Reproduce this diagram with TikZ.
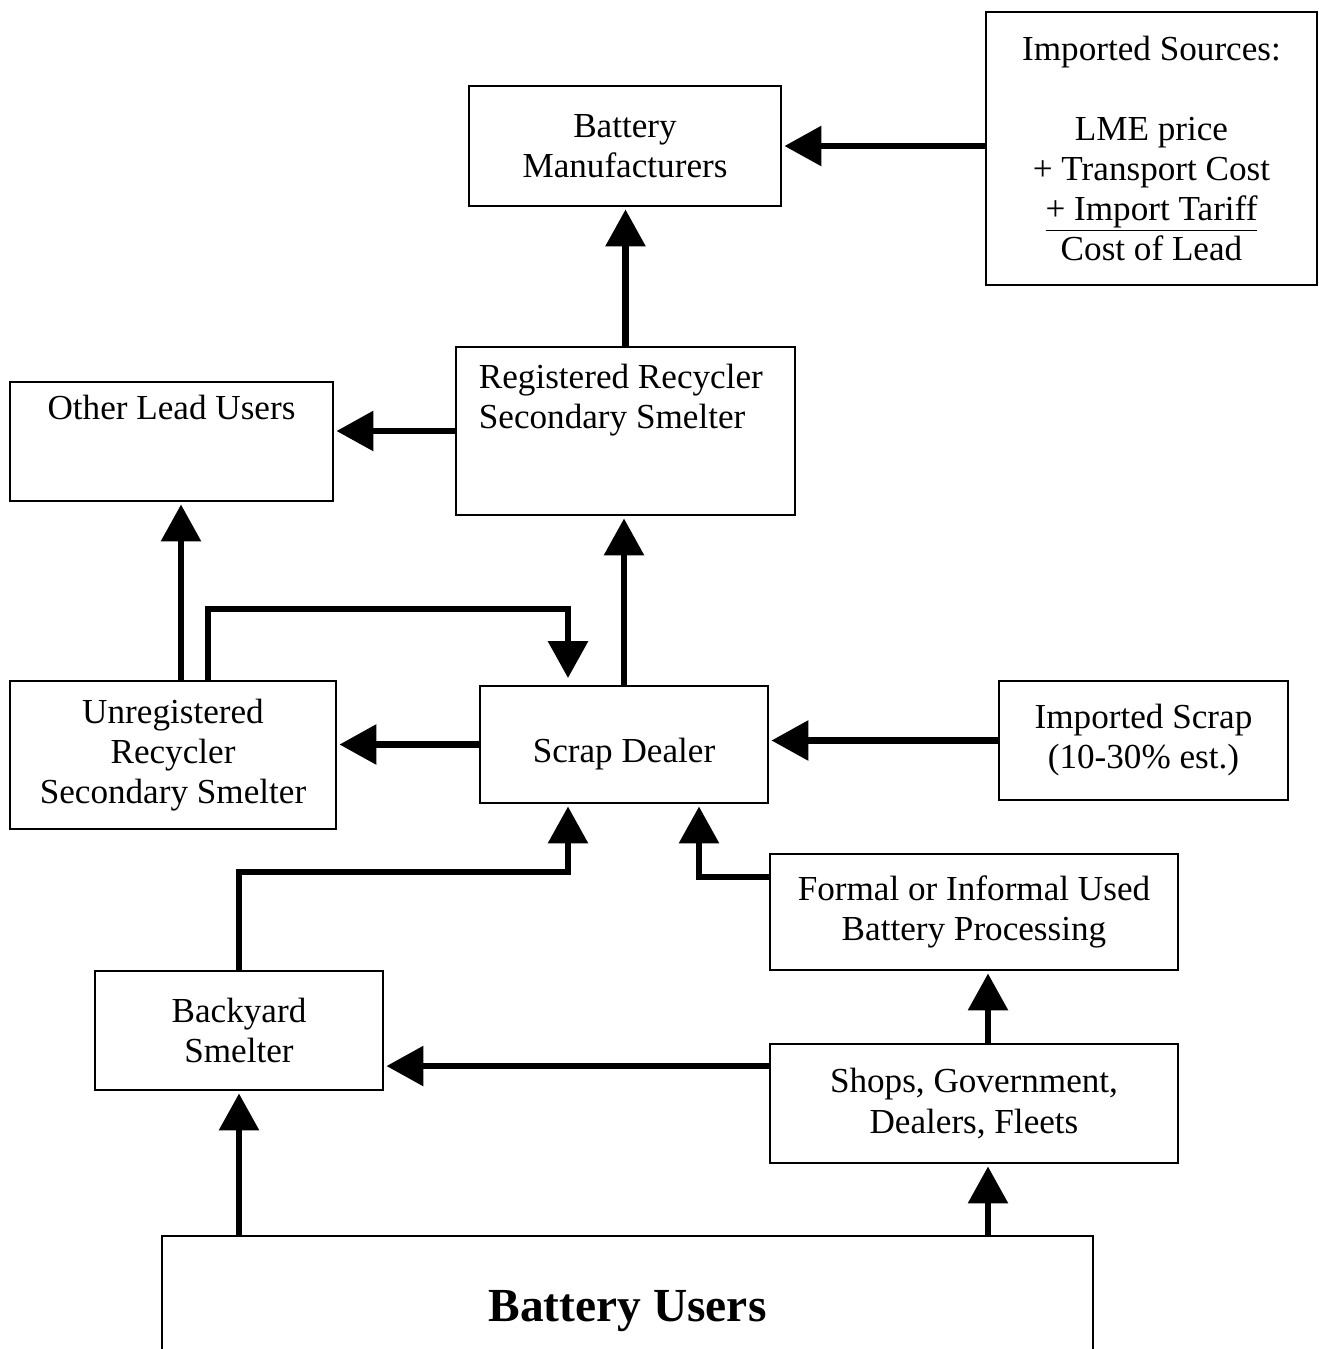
\documentclass[tikz,border=0pt]{standalone}
\usepackage{fontspec}
\setmainfont{Liberation Serif}
\usepackage{xcolor}
\definecolor{mainDark}{HTML}{000000}
\usepackage{tikz}
\usetikzlibrary{positioning,calc,arrows.meta}
\tikzset{
  flowBox/.style={
    rectangle,
    draw=mainDark,
    line width=1.1pt,
    inner sep=0pt,
    align=center
 },
  boxText/.style={
    inner sep=0pt,
    align=center
 },
  arrowLine/.style={
    -{Triangle[length=7.4mm,width=7.8mm]},
    line width=3.6pt,
    color=mainDark,
    shorten >=0.5mm
 }
}

\begin{document}
\begin{tikzpicture}[font=\fontsize{20}{22.8}\selectfont]
            \useasboundingbox (0,0) rectangle (26.38,-26.98);

            % boxes
            \node[flowBox, minimum width=6.24cm, minimum height=2.40cm] (manuf) at (12.50,-2.92) {Battery\\Manufacturers};
            \node[flowBox, minimum width=6.62cm, minimum height=5.46cm] (impsrc) at (23.03,-2.97) {Imported Sources:\\ \\LME price\\+ Transport Cost\\\underline{+ Import Tariff}\\Cost of Lead};
            \node[flowBox, minimum width=6.78cm, minimum height=3.36cm] (reg) at (12.51,-8.62) {};
            \node[boxText, align=left, anchor=north west] at ([xshift=0.47cm,yshift=-0.36cm]reg.north west) {Registered Recycler\\Secondary Smelter};
            \node[flowBox, minimum width=6.46cm, minimum height=2.38cm] (other) at (3.43,-8.83) {};
            \node[boxText, anchor=base] at ([yshift=-0.76cm]other.north) {Other Lead Users};
            \node[flowBox, minimum width=6.52cm, minimum height=2.96cm] (unreg) at (3.46,-15.10) {Unregistered\\Recycler\\Secondary Smelter};
            \node[flowBox, minimum width=5.76cm, minimum height=2.34cm] (scrap) at (12.48,-14.89) {\raisebox{-0.2cm}[\height][\depth]{Scrap Dealer}};
            \node[flowBox, minimum width=5.78cm, minimum height=2.38cm] (impscrap) at (22.87,-14.81) {Imported Scrap\\(10-30\% est.)};
            \node[flowBox, minimum width=8.16cm, minimum height=2.32cm] (formal) at (19.48,-18.24) {Formal or Informal Used\\Battery Processing};
            \node[flowBox, minimum width=5.76cm, minimum height=2.38cm] (backyard) at (4.78,-20.61) {Backyard\\Smelter};
            \node[flowBox, minimum width=8.16cm, minimum height=2.38cm] (shops) at (19.48,-22.07) {Shops, Government,\\Dealers, Fleets};
            \node[flowBox, minimum width=18.62cm, minimum height=3.00cm, font=\fontsize{27}{30}\selectfont\bfseries] (users) at (12.55,-26.22) {Battery Users};

            % flows
            \draw[arrowLine] (impsrc.west |- manuf.east) -- (manuf.east);
            \draw[arrowLine] (reg.north) -- (reg.north |- manuf.south);
            \draw[arrowLine] (reg.west) -- (reg.west -| other.east);
            \draw[arrowLine] (scrap.north) -- (scrap.north |- reg.south);
            \coordinate (u1) at ([xshift=0.16cm]unreg.north);
            \draw[arrowLine] (u1) -- (u1 |- other.south);
            \draw[arrowLine, shorten >=1.4mm] ([xshift=0.70cm]unreg.north) -- ++(0,1.42) -| ([xshift=-1.12cm]scrap.north);
            \draw[arrowLine] (scrap.west) -- (scrap.west -| unreg.east);
            \draw[arrowLine] (impscrap.west) -- (impscrap.west -| scrap.east);
            \draw[arrowLine] (backyard.north) -- ++(0,1.96) -| ([xshift=-1.12cm]scrap.south);
            \draw[arrowLine] ([yshift=-0.48cm]formal.north west) -| ([xshift=1.50cm]scrap.south);
            \coordinate (s1) at ([xshift=0.28cm]shops.north);
            \draw[arrowLine] (s1) -- (s1 |- formal.south);
            \draw[arrowLine] ([yshift=-0.46cm]shops.north west) -- ([yshift=-0.46cm]shops.north west -| backyard.east);
            \draw[arrowLine] (users.north -| backyard.south) -- (backyard.south);
            \coordinate (s2) at ([xshift=0.28cm]shops.south);
            \draw[arrowLine] (s2 |- users.north) -- (s2);
        \end{tikzpicture}
\end{document}
